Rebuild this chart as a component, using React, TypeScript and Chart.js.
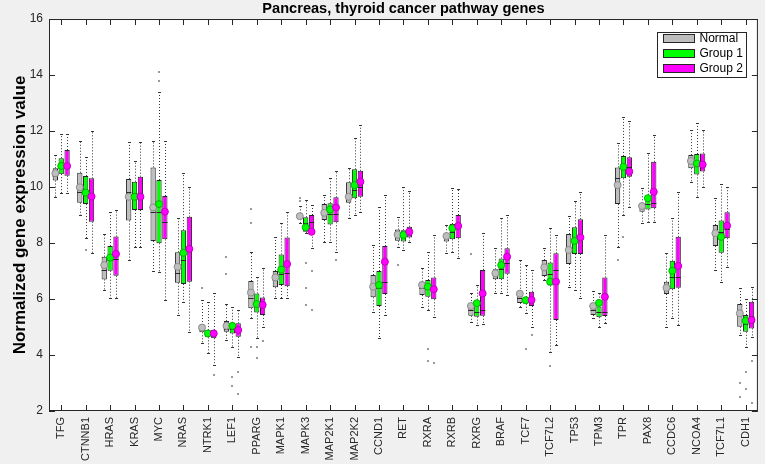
import React, { useEffect, useRef } from 'react';
import { Chart, registerables } from 'chart.js';

Chart.register(...registerables);

const genes = ['TFG', 'CTNNB1', 'HRAS', 'KRAS', 'MYC', 'NRAS', 'NTRK1', 'LEF1', 'PPARG', 'MAPK1', 'MAPK3', 'MAP2K1', 'MAP2K2', 'CCND1', 'RET', 'RXRA', 'RXRB', 'RXRG', 'BRAF', 'TCF7', 'TCF7L2', 'TP53', 'TPM3', 'TPR', 'PAX8', 'CCDC6', 'NCOA4', 'TCF7L1', 'CDH1'];
const groupNames = ['Normal', 'Group 1', 'Group 2'];
const yTicks = [2, 4, 6, 8, 10, 12, 14, 16];

// Normal
const normalQ1 = [10.23, 9.44, 6.70, 8.80, 8.07, 6.58, 4.81, 4.83, 5.67, 6.42, 8.85, 8.82, 9.44, 6.06, 8.08, 6.14, 8.05, 5.40, 6.71, 5.86, 6.82, 7.25, 5.43, 9.39, 9.12, 6.18, 10.67, 7.89, 5.01];
const normalMed = [10.40, 9.83, 7.04, 9.83, 9.12, 6.94, 4.90, 4.92, 6.04, 6.68, 8.96, 9.15, 9.75, 6.40, 8.29, 6.40, 8.20, 5.60, 6.92, 6.05, 7.20, 7.75, 5.60, 10.31, 9.28, 6.35, 10.93, 8.30, 5.45];
const normalQ3 = [10.67, 10.51, 7.51, 10.29, 10.70, 7.67, 5.07, 5.21, 6.64, 7.00, 9.06, 9.39, 10.17, 6.86, 8.48, 6.62, 8.35, 5.82, 7.06, 6.26, 7.39, 8.32, 5.82, 10.70, 9.42, 6.62, 11.14, 8.64, 5.82];
const normalMean = [10.49, 9.99, 7.21, 9.65, 9.27, 7.15, 4.98, 5.04, 6.23, 6.77, 8.96, 9.08, 9.65, 6.44, 8.30, 6.50, 8.25, 5.75, 6.92, 6.19, 7.13, 7.75, 5.75, 10.07, 9.32, 6.40, 10.93, 8.35, 5.49];
const normalLo = [9.65, 9.00, 6.32, 7.39, 7.01, 5.43, 4.42, 4.54, 5.31, 6.02, 8.73, 8.05, 8.88, 5.55, 7.87, 5.73, 7.63, 5.19, 6.22, 5.73, 6.68, 6.44, 5.31, 7.87, 8.73, 5.01, 10.19, 7.04, 4.71];
const normalHi = [11.14, 11.65, 8.32, 11.60, 11.65, 8.88, 5.96, 5.82, 7.69, 8.23, 9.32, 9.71, 10.67, 7.93, 8.93, 7.10, 8.64, 6.20, 7.81, 7.39, 7.81, 8.96, 6.30, 11.56, 9.95, 7.63, 12.04, 9.60, 6.38];

// Group 1
const group1Q1 = [10.46, 9.39, 7.01, 9.18, 7.99, 6.54, 4.63, 4.77, 5.52, 6.50, 8.40, 8.66, 9.60, 5.75, 8.05, 6.08, 8.13, 5.37, 6.71, 5.83, 6.48, 7.61, 5.35, 10.31, 9.20, 6.35, 10.45, 7.65, 4.83];
const group1Med = [10.73, 9.83, 7.39, 9.77, 9.12, 7.39, 4.77, 4.92, 5.79, 6.90, 8.70, 9.05, 9.90, 6.38, 8.29, 6.35, 8.40, 5.55, 7.06, 5.96, 6.90, 8.08, 5.55, 10.70, 9.40, 6.80, 10.80, 8.40, 5.10];
const group1Q3 = [11.03, 10.39, 7.89, 10.19, 10.25, 8.46, 4.89, 5.15, 6.20, 7.59, 8.92, 9.42, 10.63, 7.00, 8.46, 6.68, 8.68, 5.87, 7.45, 6.07, 7.30, 8.56, 5.73, 11.11, 9.51, 7.37, 11.18, 8.80, 5.43];
const group1Mean = [10.75, 9.80, 7.48, 9.65, 9.39, 7.65, 4.77, 5.04, 5.82, 7.05, 8.56, 9.20, 10.07, 6.50, 8.29, 6.44, 8.53, 5.85, 7.21, 5.96, 6.62, 8.08, 5.86, 10.72, 9.60, 7.01, 10.84, 8.22, 5.22];
const group1Lo = [9.79, 8.17, 6.02, 7.87, 6.98, 5.88, 4.06, 4.30, 4.60, 6.02, 8.35, 8.05, 9.00, 4.60, 7.75, 5.61, 7.69, 5.07, 6.22, 5.49, 4.12, 6.32, 5.01, 9.00, 8.75, 5.31, 9.65, 6.62, 4.30];
const group1Hi = [11.90, 11.08, 9.12, 10.94, 13.40, 10.51, 5.90, 5.73, 6.80, 8.70, 9.54, 10.31, 11.74, 9.27, 9.99, 7.69, 9.95, 6.50, 8.88, 7.21, 8.52, 9.50, 6.20, 12.51, 11.20, 8.88, 12.27, 10.11, 6.00];

// Group 2
const group2Q1 = [10.40, 8.76, 6.83, 9.18, 8.13, 6.62, 4.60, 4.65, 5.43, 6.46, 8.44, 8.74, 9.65, 6.18, 8.20, 5.99, 8.17, 5.40, 6.90, 5.75, 5.25, 7.61, 5.39, 10.37, 9.24, 6.40, 10.55, 8.17, 4.95];
const group2Med = [10.75, 9.71, 7.42, 9.80, 8.76, 7.87, 4.77, 4.89, 5.79, 6.94, 8.75, 9.05, 10.00, 6.62, 8.40, 6.44, 8.55, 5.60, 7.30, 5.96, 7.04, 8.20, 5.55, 10.70, 9.42, 6.80, 10.85, 8.50, 5.40];
const group2Q3 = [11.32, 10.31, 8.23, 10.37, 9.68, 8.94, 4.89, 5.13, 6.05, 8.20, 9.00, 9.63, 10.58, 7.89, 8.58, 6.77, 9.00, 7.04, 7.81, 6.26, 7.63, 8.85, 6.77, 11.06, 10.90, 8.22, 11.20, 9.10, 5.90];
const group2Mean = [10.75, 9.66, 7.61, 9.65, 9.12, 7.79, 4.77, 4.89, 5.79, 7.25, 8.40, 9.27, 10.19, 7.33, 8.40, 6.35, 8.61, 6.20, 7.51, 5.97, 6.62, 8.20, 6.08, 10.55, 9.83, 7.18, 10.80, 8.62, 5.25];
const group2Lo = [9.80, 7.64, 6.02, 7.87, 5.96, 4.83, 3.64, 3.94, 5.01, 6.02, 7.81, 7.69, 9.12, 5.43, 8.05, 5.37, 7.45, 5.12, 6.16, 5.01, 4.36, 6.02, 5.13, 9.30, 8.75, 5.07, 10.00, 7.15, 4.65];
const group2Hi = [11.90, 12.00, 9.18, 11.60, 11.65, 10.01, 6.20, 5.61, 7.10, 9.12, 9.36, 10.58, 12.21, 9.71, 9.87, 8.29, 9.92, 8.35, 8.99, 7.04, 8.29, 9.82, 8.29, 12.36, 11.86, 9.81, 12.04, 10.01, 6.44];

// Outliers: [gene, value]
const normalOutliers: [string, number][] = [['NTRK1', 6.4], ['LEF1', 7.5], ['LEF1', 6.9], ['PPARG', 8.7], ['PPARG', 9.2], ['PPARG', 4.3], ['MAPK3', 9.6], ['MAPK3', 9.5], ['RET', 7.2], ['TPR', 7.4], ['CDH1', 3.0], ['CDH1', 2.5], ['RXRG', 7.6]];
const group1Outliers: [string, number][] = [['CTNNB1', 7.75], ['MYC', 14.1], ['MYC', 13.8], ['LEF1', 3.2], ['LEF1', 2.9], ['PPARG', 4.3], ['PPARG', 3.9], ['MAPK3', 7.3], ['MAPK3', 6.4], ['MAPK3', 5.8], ['RXRA', 4.2], ['RXRA', 3.8], ['TCF7', 4.2], ['TCF7L2', 3.6], ['TPR', 8.2], ['CDH1', 3.4], ['CDH1', 2.8]];
const group2Outliers: [string, number][] = [['NTRK1', 3.3], ['LEF1', 2.6], ['LEF1', 3.4], ['PPARG', 4.5], ['MAPK3', 7.0], ['MAPK3', 5.6], ['MAP2K1', 7.4], ['RXRA', 3.7], ['TCF7', 4.7], ['CDH1', 2.3], ['CDH1', 3.8]];

const fillColors = ['#bebebe', '#00ff00', '#ff00ff'];
const markerEdge = ['#8c8c8c', '#00b400', '#c000c0'];
const darkLine = '#262626';
const FONT = '"Liberation Sans", Arial, Helvetica, sans-serif';

const groupStats = [
  { q1: normalQ1, med: normalMed, q3: normalQ3, mean: normalMean, lo: normalLo, hi: normalHi, out: normalOutliers },
  { q1: group1Q1, med: group1Med, q3: group1Q3, mean: group1Mean, lo: group1Lo, hi: group1Hi, out: group1Outliers },
  { q1: group2Q1, med: group2Med, q3: group2Q3, mean: group2Mean, lo: group2Lo, hi: group2Hi, out: group2Outliers },
];

const boxPlugin = {
  id: 'boxExtras',
  beforeDraw(chart: any) {
    const { ctx, chartArea: a, width, height } = chart;
    ctx.save();
    ctx.fillStyle = '#f0f0f0';
    ctx.fillRect(0, 0, width, height);
    ctx.fillStyle = '#ffffff';
    ctx.fillRect(a.left, a.top, a.right - a.left, a.bottom - a.top);
    ctx.restore();
  },
  beforeDatasetsDraw(chart: any) {
    const { ctx } = chart;
    const ys = chart.scales.y;
    ctx.save();
    ctx.fillStyle = '#9a9a9a';
    groupStats.forEach((g, d) => {
      const meta = chart.getDatasetMeta(d);
      g.out.forEach(([name, v]) => {
        const i = genes.indexOf(name);
        const el = meta.data[i];
        if (!el) return;
        const py = ys.getPixelForValue(v);
        ctx.fillRect(Math.round(el.x) - 1, Math.round(py) - 1, 2, 2);
      });
    });
    ctx.restore();
  },
  afterDatasetsDraw(chart: any) {
    const { ctx } = chart;
    const ys = chart.scales.y;
    ctx.save();
    groupStats.forEach((g, d) => {
      const meta = chart.getDatasetMeta(d);
      meta.data.forEach((el: any, i: number) => {
        const cx = Math.round(el.x) + 0.5;
        const half = el.width / 2;
        const yq1 = ys.getPixelForValue(g.q1[i]);
        const yq3 = ys.getPixelForValue(g.q3[i]);
        const ylo = Math.round(ys.getPixelForValue(g.lo[i])) + 0.5;
        const yhi = Math.round(ys.getPixelForValue(g.hi[i])) + 0.5;
        ctx.strokeStyle = '#333333';
        ctx.lineWidth = 1;
        ctx.setLineDash([1, 2]);
        ctx.beginPath();
        ctx.moveTo(cx, yq3);
        ctx.lineTo(cx, yhi);
        ctx.moveTo(cx, yq1);
        ctx.lineTo(cx, ylo);
        ctx.stroke();
        ctx.setLineDash([]);
        ctx.beginPath();
        ctx.moveTo(cx - 1.5, yhi);
        ctx.lineTo(cx + 1.5, yhi);
        ctx.moveTo(cx - 1.5, ylo);
        ctx.lineTo(cx + 1.5, ylo);
        ctx.stroke();
        const ym = Math.round(ys.getPixelForValue(g.med[i])) + 0.5;
        ctx.strokeStyle = darkLine;
        ctx.beginPath();
        ctx.moveTo(el.x - half, ym);
        ctx.lineTo(el.x + half, ym);
        ctx.stroke();
        const ymean = ys.getPixelForValue(g.mean[i]);
        ctx.fillStyle = fillColors[d];
        ctx.strokeStyle = markerEdge[d];
        ctx.beginPath();
        ctx.arc(el.x, ymean, 3.5, 0, Math.PI * 2);
        ctx.fill();
        ctx.stroke();
      });
    });
    ctx.restore();
  },
  afterDraw(chart: any) {
    const { ctx, chartArea: a } = chart;
    const xs = chart.scales.x;
    const ys = chart.scales.y;
    ctx.save();
    ctx.strokeStyle = darkLine;
    ctx.lineWidth = 1;
    ctx.strokeRect(a.left + 0.5, a.top + 0.5, a.right - a.left - 1, a.bottom - a.top - 1);
    const tl = 6;
    ctx.beginPath();
    xs.ticks.forEach((_: any, i: number) => {
      const px = Math.round(xs.getPixelForTick(i)) + 0.5;
      ctx.moveTo(px, a.bottom);
      ctx.lineTo(px, a.bottom - tl);
      ctx.moveTo(px, a.top);
      ctx.lineTo(px, a.top + tl);
    });
    ys.ticks.forEach((_: any, i: number) => {
      const py = Math.round(ys.getPixelForTick(i)) + 0.5;
      ctx.moveTo(a.left, py);
      ctx.lineTo(a.left + tl, py);
      ctx.moveTo(a.right, py);
      ctx.lineTo(a.right - tl, py);
    });
    ctx.stroke();

    const lw = 89, lh = 45;
    const lx = Math.round(a.right - 101) + 0.5;
    const ly = Math.round(a.top + 13) + 0.5;
    ctx.fillStyle = '#ffffff';
    ctx.fillRect(lx, ly, lw, lh);
    ctx.strokeStyle = darkLine;
    ctx.strokeRect(lx, ly, lw, lh);
    ctx.font = `12px ${FONT}`;
    ctx.textBaseline = 'middle';
    ctx.textAlign = 'left';
    chart.data.datasets.forEach((ds: any, k: number) => {
      const ry = ly + 2 + k * 15;
      ctx.fillStyle = ds.backgroundColor;
      ctx.fillRect(lx + 6, ry, 31, 8);
      ctx.strokeStyle = darkLine;
      ctx.strokeRect(lx + 6, ry, 31, 8);
      ctx.fillStyle = '#000000';
      ctx.fillText(ds.label, lx + 42, ry + 4.5);
    });
    ctx.restore();
  },
};

export default function App() {
  const ref = useRef<HTMLCanvasElement | null>(null);
  useEffect(() => {
    if (!ref.current) return;
    const datasets = groupStats.map((g, d) => ({
      label: groupNames[d],
      data: genes.map((_, i) => [g.q1[i], g.q3[i]]),
      backgroundColor: fillColors[d],
      borderColor: darkLine,
      borderWidth: 1,
      borderSkipped: false,
      categoryPercentage: 0.72,
      barPercentage: 0.9,
    }));
    const chart = new Chart(ref.current, {
      type: 'bar',
      data: { labels: genes, datasets: datasets as any },
      plugins: [boxPlugin],
      options: {
        responsive: false,
        animation: false,
        devicePixelRatio: 1,
        layout: { padding: { left: 0, right: 6, top: 0, bottom: 0 } },
        plugins: {
          legend: { display: false },
          tooltip: { enabled: false },
          title: {
            display: true,
            text: 'Pancreas, thyroid cancer pathway genes',
            color: '#000000',
            fullSize: false,
            font: { family: FONT, size: 14.6, weight: 'bold', lineHeight: 1.2 },
            padding: { top: 0.5, bottom: 1 },
          },
        },
        scales: {
          x: {
            type: 'category',
            grid: { display: false, drawTicks: false },
            border: { display: false },
            ticks: {
              autoSkip: false,
              minRotation: 90,
              maxRotation: 90,
              padding: 6,
              color: '#262626',
              font: { family: FONT, size: 11 },
            },
            afterFit: (s: any) => { s.height = 53; },
          },
          y: {
            min: 2,
            max: 16,
            grid: { display: false, drawTicks: false },
            border: { display: false },
            ticks: {
              stepSize: 2,
              padding: 6,
              color: '#262626',
              font: { family: FONT, size: 12 },
              callback: (v: any) => (yTicks.includes(Number(v)) ? String(v) : ''),
            },
            title: {
              display: true,
              text: 'Normalized gene expression value',
              color: '#000000',
              font: { family: FONT, size: 17, weight: 'bold', lineHeight: 1.2 },
              padding: { top: 10, bottom: 0 },
            },
            afterFit: (s: any) => { s.width = 49; },
          },
        },
      },
    });
    return () => chart.destroy();
  }, []);
  return (
    <div style={{ position: 'absolute', left: 0, top: 0, width: 765, height: 464, background: '#f0f0f0' }}>
      <canvas ref={ref} width={765} height={464} style={{ display: 'block' }} />
    </div>
  );
}
